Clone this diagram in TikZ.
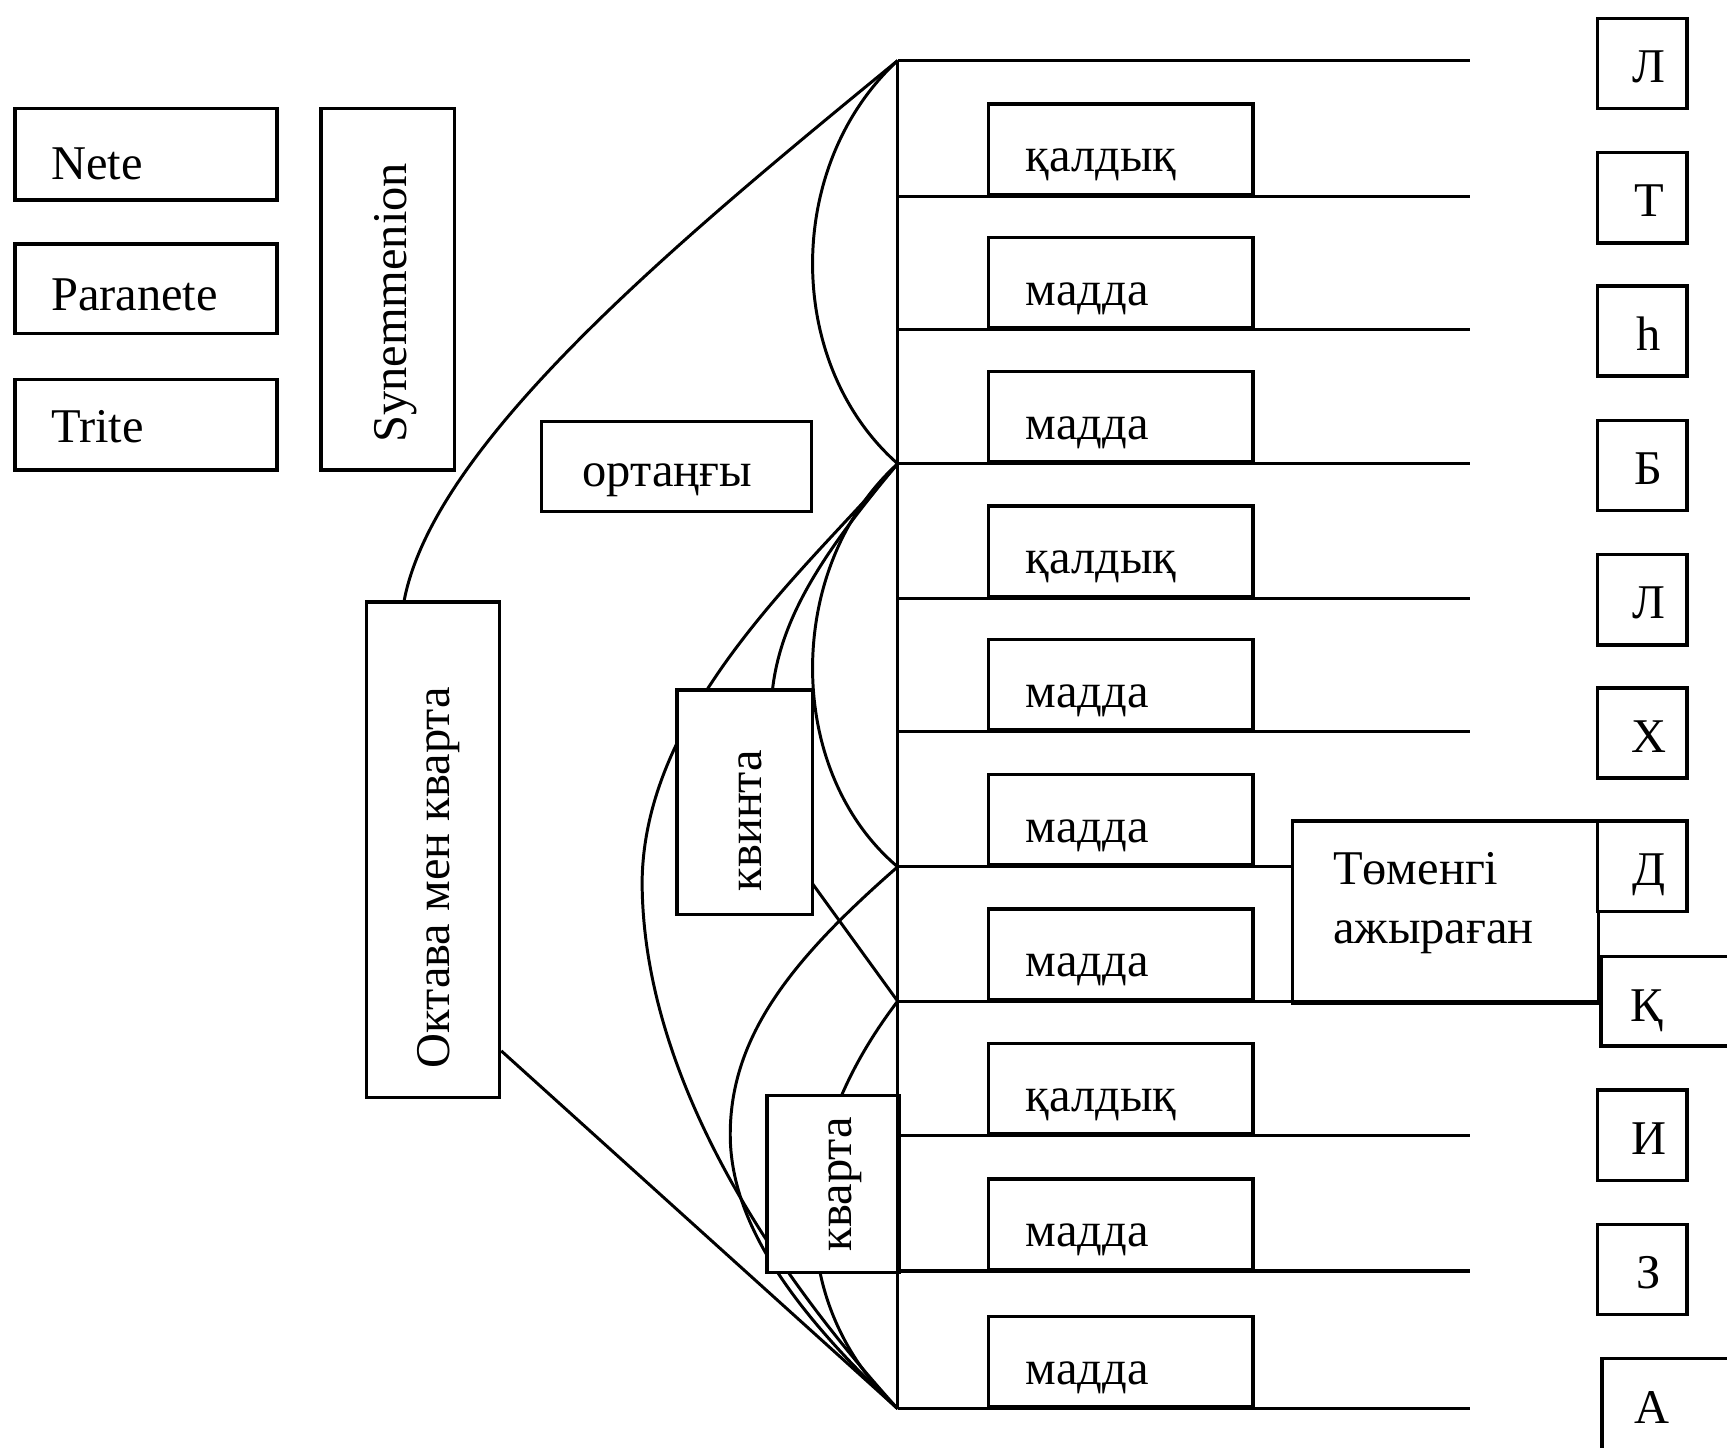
\documentclass[tikz,border=0pt]{standalone}
\usepackage{fontspec}
\setmainfont{Liberation Serif}
\begin{document}
\begin{tikzpicture}[x=1pt,y=-1pt,line width=2.8pt,
  boxx/.style={draw, fill=white, line width=3.1pt, inner sep=0pt, anchor=north west},
  txt/.style={font=\fontsize{44}{52}\selectfont, inner sep=0pt},
  conn/.style={line width=2.7pt}]
\clip (0,0) rectangle (1568,1314);
\fill[white] (0,0) rectangle (1568,1314);

% left column
\node[boxx, minimum width=238pt, minimum height=83pt] (nete) at (12,97) {};
\node[txt, anchor=base west] (netet) at (45,163) {Nete};
\node[boxx, minimum width=238pt, minimum height=81pt] (para) at (12,220) {};
\node[txt, anchor=base west] (parat) at (45,282) {Paranete};
\node[boxx, minimum width=238pt, minimum height=82pt] (trite) at (12,343) {};
\node[txt, anchor=base west] (tritet) at (45,402) {Trite};
\node[boxx, minimum width=121pt, minimum height=328pt] (syn) at (290,97) {};
\node[txt, rotate=90, anchor=base] (synt) at (369,275) {Synemmenion};
\node[boxx, minimum width=245pt, minimum height=82pt] (orta) at (490,381) {};
\node[txt, anchor=base] (ortat) at (606,442) {ортаңғы};

% octave box
\node[boxx, minimum width=121pt, minimum height=450pt] (okt) at (331,545) {};
\node[txt, rotate=90, anchor=base] (oktt) at (408,797) {Октава мен кварта};

% apexes
\coordinate (A1) at (815,55);
\coordinate (A2) at (815,421);
\coordinate (A3) at (815,787);
\coordinate (A4) at (815,909);
\coordinate (A5) at (815,1279);
\coordinate (o1) at ([xshift=36pt]okt.north west);
\coordinate (o2) at ([yshift=44pt]okt.south east);

% curves
\draw[conn] (o1) .. controls (395,400) and (620,215) .. (A1);
\draw[conn] (o2) -- (A5);
\draw[conn] (A1) .. controls (712,150) and (712,330) .. (A2);
\draw[conn] (A2) .. controls (740,510) and (585,640) .. (583,800)
                 .. controls (583,960) and (680,1130) .. (A5);
\draw[conn] (A2) .. controls (745,505) and (700,570) .. (700,650) -- (736,800) -- (A4);
\draw[conn] (A2) .. controls (712,515) and (712,700) .. (A3);
\draw[conn] (A3) .. controls (720,870) and (663,940) .. (663,1030)
                 .. controls (663,1110) and (720,1190) .. (A5);
\draw[conn] (A4) .. controls (700,1060) and (730,1200) .. (A5);

% fifth and fourth boxes
\node[boxx, minimum width=123pt, minimum height=204pt] (kvi) at (613,625) {};
\node[txt, rotate=90, anchor=base] (kvit) at (691,745) {квинта};
\node[boxx, minimum width=120pt, minimum height=161pt] (kva) at (695,993) {};
\node[txt, rotate=90, anchor=base] (kvat) at (773,1075) {кварта};

% small row boxes
\foreach \b/\w [count=\i] in {178/қалдық, 299/мадда, 421/мадда, 543/қалдық, 664/мадда,
    787/мадда, 909/мадда, 1031/қалдық, 1154/мадда, 1279/мадда} {
  \node[boxx, anchor=south west, minimum width=240pt, minimum height=82pt] (r\i) at (896,\b) {};
  \node[txt, anchor=base west] (rt\i) at (930,\b-22) {\w};
}

% lower separated box
\node[boxx, minimum width=278pt, minimum height=165pt] (tom) at (1172,744) {};
\node[txt, anchor=base west] (tomt1) at (1209,803) {Төменгі};
\node[txt, anchor=base west] (tomt2) at (1209,857) {ажыраған};

% right letter boxes
\foreach \t/\l [count=\i] in {15/Л, 137/Т, 258/һ, 380/Б, 502/Л, 623/Х, 744/Д, 988/И, 1110/З} {
  \node[boxx, minimum width=81pt, minimum height=82pt] (L\i) at (1449,\t) {};
  \node[txt, anchor=base] (Lt\i) at (1497,\t+60) {\l};
}
\node[boxx, minimum width=200pt, minimum height=81pt] (qk) at (1452,867) {};
\node[txt, anchor=base] (qkt) at (1495,927) {Қ};
\node[boxx, minimum width=200pt, minimum height=120pt] (aa) at (1453,1232) {};
\node[txt, anchor=base] (aat) at (1500,1292) {А};

% main vertical and horizontal lines
\draw (A1) -- (A5);
\foreach \b in {55,178,299,421,543,664,1031,1154,1279} {
  \draw (815,\b) -- (1335,\b);
}
\draw (A3) -- (A3 -| tom.west);
\draw (A4) -- (A4 -| qk.west);
\end{tikzpicture}
\end{document}
